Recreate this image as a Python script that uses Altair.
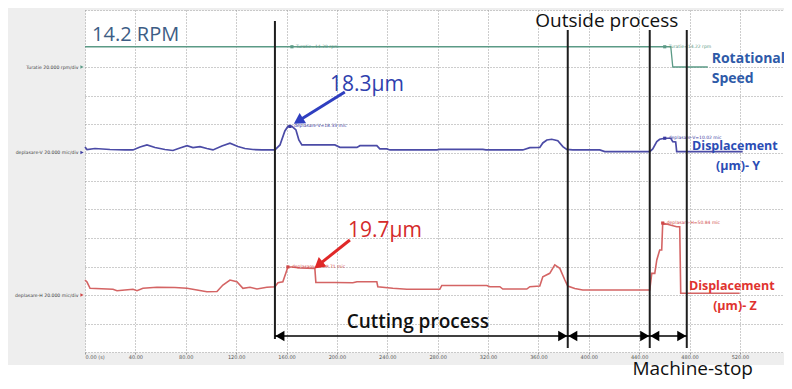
import altair as alt
import pandas as pd

# ---------------- data ----------------
x_ticks = [0, 40, 80, 120, 160, 200, 240, 280, 320, 360, 400, 440, 480, 520]
grid_divs = [0, 1, 2, 3, 4, 5, 6, 7, 8, 9, 10, 12]

# channel zero levels (in grid divisions) and units per division
ROT_ZERO, V_ZERO, H_ZERO, PER_DIV = 10, 7, 2, 20

# rotational speed (rpm)
rot_t = [0, 465.1, 466.7, 494.5]
rot_v = [14.2, 14.2, 0, 0]

# displacement Y (um)
blue_t = [0, 1.6, 7.9, 19.8, 31.7, 38.1, 43.7, 49.2, 55.6, 63.5, 69.8, 75.4, 81.0, 85.7,
          91.3, 96.8, 101.6, 108.7, 115.1, 121.4, 127.0, 133.3, 140.5, 150.8, 154.8, 158.7,
          161.1, 164.3, 167.5, 169.8, 172.2, 186.5, 198.4, 202.4, 215.9, 218.3, 231.7, 234.1,
          239.7, 242.1, 279.4, 281.7, 315.9, 318.3, 347.6, 353.2, 361.1, 363.5, 366.7, 370.6,
          375.4, 379.4, 382.5, 387.3, 408.7, 412.7, 448.4, 450.8, 454.0, 456.3, 460.3, 465.1,
          466.7, 469.0, 469.8, 522.2]
blue_v = [3.9, 2.1, 2.8, 2.1, 1.8, 1.8, 3.9, 5.3, 3.5, 2.1, 1.4, 3.2, 4.8, 3.5,
          4.1, 2.8, 1.8, 4.6, 6.5, 4.2, 2.8, 2.1, 1.8, 1.8, 5.3, 15.1,
          18.3, 18.3, 15.8, 8.8, 5.3, 5.3, 5.3, 3.6, 3.6, 4.8, 4.8, 2.5,
          2.5, 1.8, 1.8, 2.2, 2.2, 1.8, 1.8, 3.4, 3.5, 6.7, 8.8, 9.3,
          8.3, 4.1, 2.2, 1.8, 1.8, 0.6, 0.6, 2.5, 7.6, 9.3, 10.0, 10.0,
          7.6, 7.4, 0.6, 0.6]

# displacement Z (um)
red_t = [0, 1.6, 4.0, 22.2, 25.4, 31.7, 38.1, 41.3, 46.0, 57.1, 71.4, 81.0, 88.9, 96.8,
         104.8, 109.5, 115.1, 120.6, 125.4, 131.0, 136.5, 144.4, 150.8, 153.2, 157.1, 161.1,
         164.3, 170.6, 182.5, 183.3, 198.4, 212.7, 215.9, 231.7, 232.5, 244.4, 255.6, 281.7,
         283.3, 319.0, 321.4, 329.4, 331.7, 350.8, 353.2, 361.1, 363.5, 369.0, 373.0, 377.0,
         381.0, 383.3, 388.9, 395.2, 448.4, 450.0, 452.4, 454.0, 456.3, 457.9, 458.7, 469.8,
         472.2, 473.0, 519.8]
red_v = [10.5, 9.1, 4.7, 4.0, 3.0, 3.5, 4.0, 3.0, 4.7, 5.4, 5.3, 4.7, 3.5, 2.3,
         2.5, 7.0, 10.5, 9.3, 4.7, 5.4, 4.2, 5.4, 5.8, 8.6, 9.3, 19.7,
         19.7, 18.9, 18.7, 8.8, 8.8, 8.6, 9.3, 9.3, 5.8, 4.7, 4.0, 4.0,
         6.7, 6.7, 5.8, 5.8, 4.2, 4.2, 5.8, 6.3, 12.8, 15.2, 21.1, 18.7,
         10.5, 6.3, 4.6, 3.5, 3.5, 15.2, 15.2, 24.6, 31.6, 31.6, 50.5, 47.9,
         47.9, 1.2, 1.2]

# cursor markers
rot_mark_t = [164.3, 460.3]
rot_mark_v = [14.2, 14.2]
rot_mark_txt = ["Turatie=14.20 rpm", "Turatie=14.22 rpm"]
blue_mark_t = [162.7, 460.3]
blue_mark_v = [18.3, 10.0]
blue_mark_txt = ["deplasare-V=18.33 mic", "deplasare-V=10.02 mic"]
red_mark_t = [161.1, 458.7]
red_mark_v = [19.7, 50.5]
red_mark_txt = ["deplasare-H=19.71 mic", "deplasare-H=50.84 mic"]

# process boundaries (s)
bound_t = [150.8, 383.3, 448.4, 477.8]
bound_top = [11.61, 11.3, 11.3, 11.3]
bound_bot = [0.46, 0.14, 0.14, 0.14]
span_start = [150.8, 383.3, 448.4]
span_end = [383.3, 448.4, 477.8]
SPAN_DIV = 0.56

# ---------------- helpers ----------------
FONT = "Open Sans"
XS = alt.Scale(domain=[0, 555], nice=False, zero=False)
YS = alt.Scale(domain=[0, 12], nice=False, zero=False)

XAX = alt.Axis(values=x_ticks, grid=True, gridDash=[1, 2], gridColor="#9a9a9a",
               domain=False, ticks=True, tickSize=2, tickColor="#9a9a9a",
               labelFontSize=5, labelColor="#555555", labelPadding=0,
               labelFont="DejaVu Sans", title=None,
               labelExpr="datum.value == 0 ? '0.00 (s)' : format(datum.value, '.2f')")
YAX = alt.Axis(values=grid_divs, grid=True, gridDash=[1, 2], gridColor="#9a9a9a",
               domain=False, ticks=False, labelFontSize=4.6, labelColor="#444444",
               labelPadding=7, labelFont="DejaVu Sans", labelLimit=200, title=None,
               labelExpr="datum.value == 10 ? 'Turatie 20.000 rpm/div' : "
                         "datum.value == 7 ? 'deplasare-V 20.000 mic/div' : "
                         "datum.value == 2 ? 'deplasare-H 20.000 mic/div' : ''")


def X(field="t"):
    return alt.X(f"{field}:Q", scale=XS, axis=XAX, title=None)


def Y(field="d"):
    return alt.Y(f"{field}:Q", scale=YS, axis=YAX, title=None)


def trace(ts, vs, zero, color, width=1.6):
    df = pd.DataFrame({"t": ts, "d": [zero + v / PER_DIV for v in vs]})
    return alt.Chart(df).mark_line(color=color, strokeWidth=width, interpolate="linear").encode(
        x=X(), y=Y())


def text(texts, ts, ds, color, size, weight="normal", align="left", baseline="middle", font=FONT):
    df = pd.DataFrame({"t": ts, "d": ds, "s": texts})
    return alt.Chart(df).mark_text(color=color, fontSize=size, fontWeight=weight, align=align,
                                   baseline=baseline, font=font).encode(x=X(), y=Y(), text="s:N")


def markers(ts, vs, zero, labels, color):
    df = pd.DataFrame({"t": ts, "d": [zero + v / PER_DIV for v in vs], "s": labels})
    base = alt.Chart(df)
    pts = base.mark_point(shape="square", filled=True, color=color, size=10, opacity=1).encode(x=X(), y=Y())
    lab = base.mark_text(color=color, fontSize=4.5, align="left", dx=4, font="DejaVu Sans").encode(
        x=X(), y=Y(), text="s:N")
    return pts + lab


def arrow(t0, d0, t1, d1, color, angle):
    df = pd.DataFrame({"t": [t0], "d": [d0], "t2": [t1], "d2": [d1]})
    base = alt.Chart(df)
    shaft = base.mark_rule(color=color, strokeWidth=3).encode(x=X(), y=Y(), x2="t2:Q", y2="d2:Q")
    head = base.mark_point(shape="triangle", filled=True, color=color, size=150, angle=angle,
                           opacity=1).encode(x=X("t2"), y=Y("d2"))
    return shaft + head


# ---------------- layers ----------------
bottom_white = alt.Chart(pd.DataFrame({"a": [0]})).mark_rect(color="white").encode(
    x=alt.value(-77), x2=alt.value(699), y=alt.value(355), y2=alt.value(371))

chan_df = pd.DataFrame({"t": [0, 0, 0], "d": [ROT_ZERO, V_ZERO, H_ZERO],
                        "c": ["#5b9a86", "#3b3ba0", "#d04848"]})
chan_marks = alt.Chart(chan_df).mark_point(shape="triangle-right", filled=True, size=14, opacity=1,
                                           xOffset=-3).encode(
    x=X(), y=Y(), color=alt.Color("c:N", scale=None))

rot = trace(rot_t, rot_v, ROT_ZERO, "#5b9a86", 1.3)
blue = trace(blue_t, blue_v, V_ZERO, "#4b4ba6", 1.7)
red = trace(red_t, red_v, H_ZERO, "#d46464", 1.6)

bounds_df = pd.DataFrame({"t": bound_t, "top": bound_top, "bot": bound_bot})
bounds = alt.Chart(bounds_df).mark_rule(color="#1e1e1e", strokeWidth=2).encode(
    x=X(), y=Y("top"), y2="bot:Q")

span_df = pd.DataFrame({"t": span_start, "t2": span_end, "d": [SPAN_DIV] * 3})
span_base = alt.Chart(span_df)
span_rules = span_base.mark_rule(color="black", strokeWidth=1.6).encode(x=X(), x2="t2:Q", y=Y())
span_left = span_base.mark_point(shape="triangle-left", filled=True, color="black", size=110,
                                 opacity=1, xOffset=5).encode(x=X(), y=Y())
span_right = span_base.mark_point(shape="triangle-right", filled=True, color="black", size=110,
                                  opacity=1, xOffset=-5).encode(x=X("t2"), y=Y())

blue_arrow = arrow(206.3, 9.12, 170.6, 8.14, "#2f3fc0", 238)
red_arrow = arrow(210.3, 3.93, 186.5, 3.09, "#e02828", 231)

annotations = [
    text(["14.2 RPM"], [5.6], [11.12], "#3d5d85", 20),
    text(["Outside process"], [414.3], [11.62], "#111111", 19, align="center"),
    text(["Cutting process"], [264.3], [1.05], "#111111", 19, weight=600, align="center"),
    text(["Machine-stop"], [482.5], [-0.80], "#111111", 19, align="center", baseline="alphabetic"),
    text(["18.3µm"], [223.8], [9.37], "#2f3fae", 21, align="center"),
    text(["19.7µm"], [238.1], [4.25], "#d42a2a", 21, align="center"),
    text(["Rotational", "Speed"], [497.6, 497.6], [10.28, 9.58], "#2e5aa8", 14, weight="bold"),
    text(["Displacement"], [482.0], [7.24], "#2b4db5", 12.5, weight="bold"),
    text(["(µm)- Y"], [518.5], [6.53], "#2b4db5", 12.5, weight="bold", align="center"),
    text(["Displacement"], [479.5], [2.32], "#e0332f", 12.5, weight="bold"),
    text(["(µm)- Z"], [516.0], [1.61], "#e0332f", 12.5, weight="bold", align="center"),
]

chart = alt.layer(
    bottom_white, rot, blue, red, chan_marks,
    markers(rot_mark_t, rot_mark_v, ROT_ZERO, rot_mark_txt, "#5b9a86"),
    markers(blue_mark_t, blue_mark_v, V_ZERO, blue_mark_txt, "#3b3ba0"),
    markers(red_mark_t, red_mark_v, H_ZERO, red_mark_txt, "#d04848"),
    bounds, span_rules, span_left, span_right, blue_arrow, red_arrow,
    *annotations,
).properties(
    width=699, height=342,
    padding={"left": 77, "top": 2, "right": 0, "bottom": 29},
    autosize=alt.AutoSizeParams(type="none"),
    background="#eeeeee",
).configure_view(fill="white", stroke="transparent")

chart.save("out.html", embed_options={"renderer": "svg", "actions": False})
